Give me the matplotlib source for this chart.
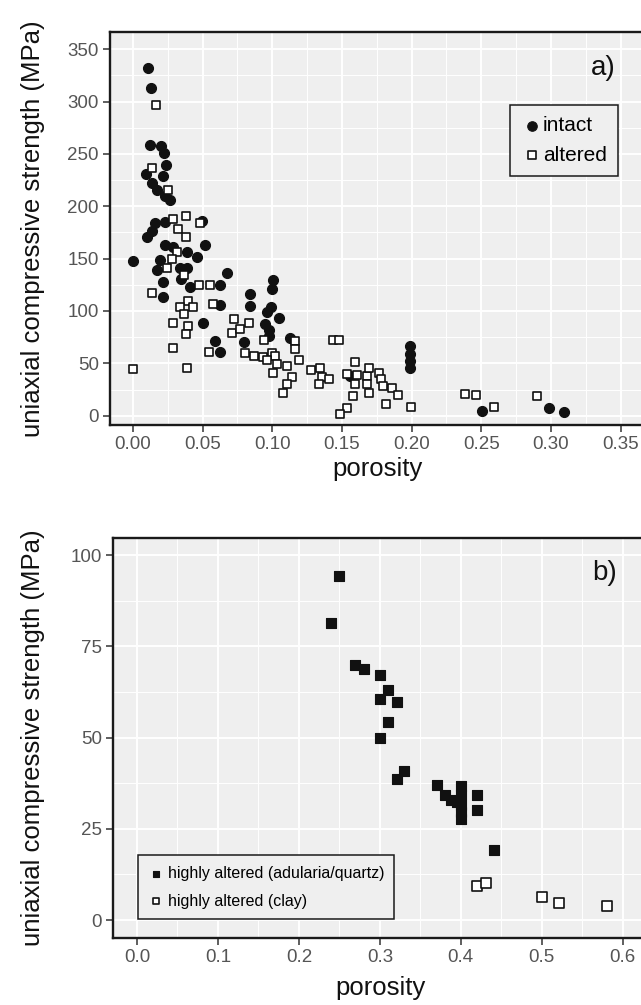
import matplotlib
matplotlib.use("Agg")
import matplotlib.pyplot as plt
from matplotlib.ticker import MultipleLocator

# ---------- data: panel a ----------
intact_por = [0.0105, 0.0129, 0.0122, 0.0199, 0.0222, 0.0237, 0.0093, 0.0213, 0.0134, 0.017,
              0.023, 0.0265, 0.023, 0.0158, 0.0134, 0.0103, 0.0493, 0.023, 0.0289, 0.0385,
              0.0457, 0.0517, 0.0002, 0.0194, 0.017, 0.0337, 0.039, 0.0672, 0.0342, 0.0213,
              0.0409, 0.0624, 0.0217, 0.0839, 0.0839, 0.0624, 0.05, 0.0588, 0.0797, 0.0624,
              0.1002, 0.0995, 0.0988, 0.0964, 0.105, 0.0947, 0.0976, 0.0976, 0.1126, 0.156,
              0.199, 0.199, 0.199, 0.199, 0.2506, 0.2986, 0.3092]
intact_ucs = [332, 313, 259, 258, 251, 239, 231, 229, 222, 216,
              210, 206, 185, 184, 176, 171, 186, 163, 161, 156,
              152, 163, 148, 149, 139, 141, 141, 136, 131, 128,
              123, 125, 113, 116, 105, 106, 89, 71, 70, 61,
              130, 121, 104, 99, 93, 88, 82, 76, 74, 38,
              67, 59, 52, 46, 4.5, 7.6, 3.8]

altered_por = [0.0165, 0.0139, 0.0249, 0.0289, 0.0378, 0.0325, 0.0378, 0.048, 0.0313, 0.0277,
               0.0246, 0.0366, 0.0473, 0.0552, 0.0134, 0.0392, 0.0337, 0.0433, 0.0366, 0.0572,
               0.0285, 0.0392, 0.038, 0.0727, 0.071, 0.0768, 0.0834, 0.0547, 0.0285, 0.0803,
               0.0868, 0.0002, 0.039, 0.0942, 0.1162, 0.1162, 0.0935, 0.0995, 0.1019, 0.0964,
               0.1031, 0.1002, 0.1107, 0.1193, 0.1139, 0.1107, 0.1078, 0.1275, 0.1341, 0.1354,
               0.1336, 0.1408, 0.1437, 0.148, 0.1593, 0.1539, 0.1605, 0.1677, 0.1696, 0.1768,
               0.1778, 0.1593, 0.1677, 0.1696, 0.158, 0.1796, 0.186, 0.1903, 0.1813, 0.1537,
               0.1485, 0.1999, 0.2382, 0.2461, 0.259, 0.2899]
altered_ucs = [297, 237, 216, 188, 191, 178, 171, 184, 156, 150,
               141, 134, 125, 125, 117, 110, 104, 104, 97, 107,
               89, 86, 78, 92, 79, 83, 89, 61, 65, 60,
               57, 45, 46, 72, 71, 64, 56, 60, 57, 53,
               49, 41, 47, 53, 37, 30, 22, 44, 46, 37,
               30, 35, 72, 72, 51, 40, 39, 38, 46, 41,
               35, 30, 30, 22, 19, 28, 26, 20, 11, 7,
               2, 8.6, 21, 20, 8.6, 19]

# ---------- data: panel b ----------
aq_por = [0.2498, 0.2395, 0.2691, 0.2802, 0.30, 0.3103, 0.30, 0.3206, 0.3103, 0.30,
          0.3296, 0.3206, 0.37, 0.3802, 0.3885, 0.40, 0.40, 0.40, 0.40, 0.40,
          0.3947, 0.4202, 0.4202, 0.4407]
aq_ucs = [94.3, 81.3, 69.9, 68.7, 67.1, 63.0, 60.7, 59.8, 54.3, 49.8,
          40.9, 38.7, 36.9, 34.2, 32.9, 36.7, 34.2, 31.5, 29.7, 27.8,
          32.4, 34.2, 30.3, 19.2]
clay_por = [0.4206, 0.4309, 0.5004, 0.521, 0.5811]
clay_ucs = [9.3, 10.3, 6.4, 4.7, 3.9]

plt.rcParams.update({
    "font.family": ["Liberation Sans", "DejaVu Sans"],
    "axes.facecolor": "#EFEFEF",
    "figure.facecolor": "white",
})

W, H = 641, 1005
fig = plt.figure(figsize=(W / 100, H / 100), dpi=100)


def px_axes(left, top, right, bottom):
    return fig.add_axes([left / W, 1 - bottom / H, (right - left) / W, (bottom - top) / H])


def style(ax, xmaj, xmin, ymaj, ymin, ylab_x, xlab_y):
    ax.xaxis.set_major_locator(MultipleLocator(xmaj))
    ax.xaxis.set_minor_locator(MultipleLocator(xmin))
    ax.yaxis.set_major_locator(MultipleLocator(ymaj))
    ax.yaxis.set_minor_locator(MultipleLocator(ymin))
    ax.grid(True, which="major", color="white", linewidth=1.4)
    ax.grid(True, which="minor", color="white", linewidth=0.7)
    ax.set_axisbelow(True)
    for s in ax.spines.values():
        s.set_color("#1a1a1a")
        s.set_linewidth(1.7)
    ax.tick_params(which="major", length=5, width=1.1, color="#333333",
                   labelcolor="#555555", labelsize=13.5, pad=3)
    ax.tick_params(which="minor", length=0)
    ax.set_xlabel("porosity", fontsize=18.5, color="#111111")
    ax.set_ylabel("uniaxial compressive strength (MPa)", fontsize=18.5, color="#111111")
    ax.yaxis.set_label_coords(ylab_x, 0.5)
    ax.xaxis.set_label_coords(0.5, xlab_y)


# ---------- panel a ----------
ax1 = px_axes(110, 32.5, 645, 425)
ax1.scatter(intact_por, intact_ucs, s=52, marker="o", color="#111111", edgecolor="#111111",
            linewidth=0.8, label="intact", zorder=3)
ax1.scatter(altered_por, altered_ucs, s=40, marker="s", color="white", edgecolor="#111111",
            linewidth=1.2, label="altered", zorder=4)
ax1.set_xlim(-0.0165, 0.3675)
ax1.set_ylim(-8.9, 366)
style(ax1, 0.05, 0.025, 50, 25, (45 - 110) / 535, (425 - 457) / 392.5)
ax1.set_xticks([0, 0.05, 0.10, 0.15, 0.20, 0.25, 0.30, 0.35])
ax1.set_xticklabels(["0.00", "0.05", "0.10", "0.15", "0.20", "0.25", "0.30", "0.35"])
leg1 = ax1.legend(loc="upper right", bbox_to_anchor=(618 / W, 1 - 105 / H),
                  bbox_transform=fig.transFigure, borderaxespad=0, fontsize=15,
                  handletextpad=0.0, handlelength=1.0, markerscale=0.95, fancybox=False,
                  framealpha=1, edgecolor="#1a1a1a", borderpad=0.55, labelspacing=0.5)
leg1.get_frame().set_linewidth(1.1)
fig.text(603 / W, 1 - 68 / H, "a)", fontsize=20, ha="center", va="center", color="#111111")

# ---------- panel b ----------
ax2 = px_axes(113, 538, 647, 938)
ax2.scatter(aq_por, aq_ucs, s=62, marker="s", color="#111111", edgecolor="#111111",
            linewidth=0.8, label="highly altered (adularia/quartz)", zorder=3)
ax2.scatter(clay_por, clay_ucs, s=52, marker="s", color="white", edgecolor="#111111",
            linewidth=1.2, label="highly altered (clay)", zorder=4)
ax2.set_xlim(-0.0296, 0.63)
ax2.set_ylim(-4.9, 104.7)
style(ax2, 0.1, 0.05, 25, 12.5, (45 - 113) / 534, (938 - 976) / 400)
leg2 = ax2.legend(loc="lower left", bbox_to_anchor=(138 / W, 1 - 919 / H),
                  bbox_transform=fig.transFigure, borderaxespad=0, fontsize=11.5,
                  handletextpad=0.2, handlelength=1.0, markerscale=0.6, fancybox=False,
                  framealpha=1, edgecolor="#1a1a1a", borderpad=0.65, labelspacing=0.8)
leg2.get_frame().set_linewidth(1.1)
fig.text(605 / W, 1 - 573 / H, "b)", fontsize=20, ha="center", va="center", color="#111111")

fig.savefig("out.png", dpi=100)
